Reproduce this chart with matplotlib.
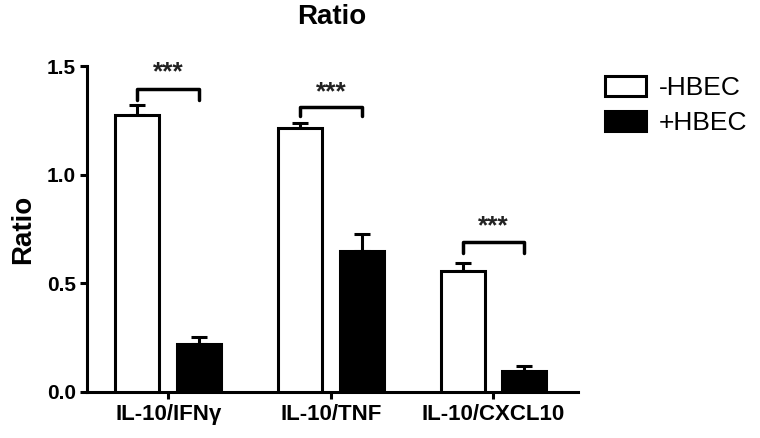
import numpy as np
import matplotlib
matplotlib.use("Agg")
import matplotlib.pyplot as plt

plt.rcParams['font.family'] = ['Liberation Sans', 'DejaVu Sans']

# Data
groups = ["IL-10/IFN\u03b3", "IL-10/TNF", "IL-10/CXCL10"]
minus_hbec = [1.274, 1.214, 0.558]
minus_err = [0.050, 0.027, 0.037]
plus_hbec = [0.220, 0.650, 0.097]
plus_err = [0.034, 0.079, 0.023]
yticks = [0.0, 0.5, 1.0, 1.5]
ytick_labels = ["0.0", "0.5", "1.0", "1.5"]

# significance brackets: (group index, bracket height, leg bottom, stars y)
sig = [(0, 1.398, 1.347, 1.477),
       (1, 1.315, 1.270, 1.385),
       (2, 0.692, 0.640, 0.770)]

lw = 2.2
off = 0.19
width = 0.27
x = np.arange(len(groups))

fig = plt.figure(figsize=(7.6, 4.38), dpi=100)
ax = fig.add_axes([0.1145, 0.1057, 0.646, 0.7425])

b1 = ax.bar(x - off, minus_hbec, width, color='white', edgecolor='black',
            linewidth=lw, label='-HBEC', zorder=3)
b2 = ax.bar(x + off, plus_hbec, width, color='black', edgecolor='black',
            linewidth=lw, label='+HBEC', zorder=3)

# upper error bars only
ax.errorbar(x - off, minus_hbec, yerr=[np.zeros(3), minus_err], fmt='none',
            ecolor='black', elinewidth=lw, capsize=5.5, capthick=lw, zorder=2)
ax.errorbar(x + off, plus_hbec, yerr=[np.zeros(3), plus_err], fmt='none',
            ecolor='black', elinewidth=lw, capsize=5.5, capthick=lw, zorder=2)

# brackets and stars
for gi, yb, yl, ys in sig:
    xl, xr = gi - off, gi + off
    ax.plot([xl, xl, xr, xr], [yl, yb, yb, yl], color='black', lw=lw + 0.3,
            solid_joinstyle='round', solid_capstyle='round', clip_on=False)
    ax.text(gi, ys - 0.005, "***", ha='center', va='center', fontsize=19,
            fontweight='bold', color='#222222')

ax.set_xlim(-0.5, 2.52)
ax.set_ylim(0, 1.5)
ax.set_xticks(x)
ax.set_xticklabels(groups, fontsize=16, fontweight='bold')
ax.set_yticks(yticks)
ax.set_yticklabels(ytick_labels, fontsize=15, fontweight='bold')
ax.tick_params(axis='both', width=lw, length=5, direction='out')
ax.tick_params(axis='x', pad=4)
ax.tick_params(axis='y', pad=3)

for s in ['top', 'right']:
    ax.spines[s].set_visible(False)
for s in ['left', 'bottom']:
    ax.spines[s].set_linewidth(lw)

ax.set_ylabel("Ratio", fontsize=20, fontweight='bold', labelpad=8)
fig.text(332 / 760, 1 - 17 / 438, "Ratio", ha='center', va='center',
         fontsize=20, fontweight='bold')

ax.legend(handles=[b1, b2], loc='upper left',
          bbox_to_anchor=(605 / 760, 1 - 76 / 438),
          bbox_transform=fig.transFigure, frameon=False, fontsize=19,
          handlelength=1.55, handleheight=0.76, handletextpad=0.5,
          labelspacing=0.42, borderpad=0, borderaxespad=0)

fig.savefig("out.png", dpi=100)
